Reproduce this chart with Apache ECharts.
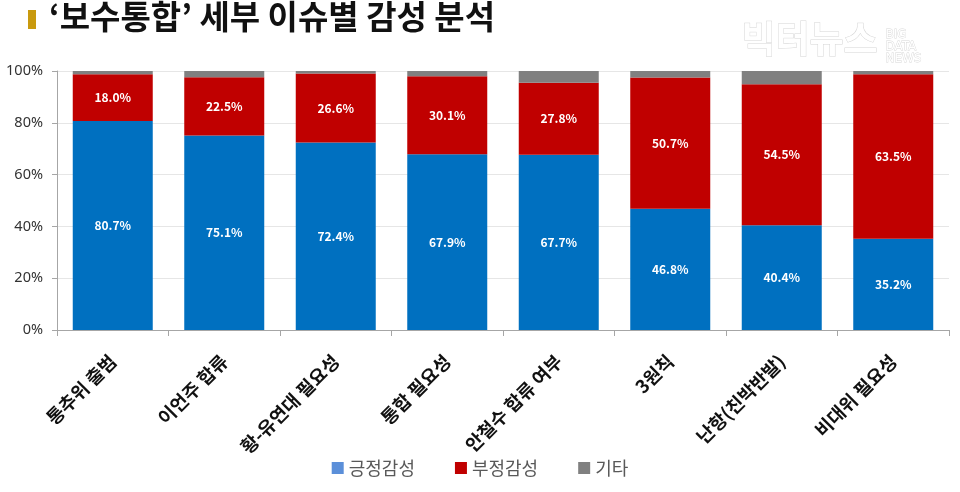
<!DOCTYPE html>
<html>
<head>
<meta charset="utf-8">
<script src="https://cdn.jsdelivr.net/npm/echarts@6/dist/echarts.min.js"></script>
<style>
html,body{margin:0;padding:0;background:#fff;}
#c{width:960px;height:492px;}
</style>
</head>
<body>
<div id="c"></div>
<script>
const categories = ['통추위 출범','이언주 합류','황-유연대 필요성','통합 필요성','안철수 합류 여부','3원칙','난항(친박반발)','비대위 필요성'];
const positive = [80.7, 75.1, 72.4, 67.9, 67.7, 46.8, 40.4, 35.2];
const negative = [18.0, 22.5, 26.6, 30.1, 27.8, 50.7, 54.5, 63.5];
const other = [1.3, 2.4, 1.0, 2.0, 4.5, 2.5, 5.1, 1.3];
const seriesNames = ['긍정감성','부정감성','기타'];
const yTicks = [0, 20, 40, 60, 80, 100];

const KFONT = '"Noto Sans CJK KR", "Noto Sans", sans-serif';
const chart = echarts.init(document.getElementById('c'), null, {renderer:'canvas'});

const labelStyle = {
  show: true,
  color: '#fff',
  fontWeight: 'bold',
  fontSize: 12,
  fontFamily: KFONT,
  formatter: p => p.value.toFixed(1) + '%'
};

chart.setOption({
  animation: false,
  backgroundColor: '#fff',
  textStyle: {fontFamily: KFONT},
  graphic: [
    {type:'rect', shape:{x:28, y:10, width:8, height:19}, style:{fill:'#C99A0E'}},
    {type:'text', left:49, top:0, style:{text:'‘보수통합’ 세부 이슈별 감성 분석', fill:'#111', font:'bold 33px ' + KFONT}},
    {type:'text', left:741, top:20, style:{text:'빅터뉴스', fill:'#fff', stroke:'#d6d6d6', lineWidth:1, font:'bold 37px ' + KFONT}},
    {type:'text', left:885, top:28, style:{text:'BIG\nDATA\nNEWS', fill:'#fff', stroke:'#d6d6d6', lineWidth:0.8, font:'12px "DejaVu Sans"', lineHeight:12}}
  ],
  legend: {
    bottom: 10,
    left: 'center',
    itemWidth: 12,
    itemHeight: 12,
    itemGap: 40,
    icon: 'rect',
    textStyle: {color:'#595959', fontSize:18, fontFamily: KFONT},
    data: [
      {name: seriesNames[0], itemStyle:{color:'#5B8FD9'}},
      {name: seriesNames[1], itemStyle:{color:'#C00000'}},
      {name: seriesNames[2], itemStyle:{color:'#808080'}}
    ]
  },
  grid: {left:57, right:11, top:71, bottom:162, containLabel:false},
  xAxis: {
    type: 'category',
    data: categories,
    axisLine: {lineStyle:{color:'#A6A6A6'}},
    axisTick: {show:true, alignWithLabel:false, length:6, lineStyle:{color:'#A6A6A6'}},
    axisLabel: {rotate:45, color:'#111', fontSize:18.5, fontWeight:'bold', fontFamily:KFONT, margin:28, interval:0}
  },
  yAxis: {
    type: 'value',
    min: 0, max: 100, interval: 20,
    axisLine: {show:true, lineStyle:{color:'#A6A6A6'}},
    axisTick: {show:true, inside:false, length:5, lineStyle:{color:'#A6A6A6'}},
    axisLabel: {color:'#333', fontSize:14.5, fontFamily:'"Noto Sans", sans-serif', margin:14,
      formatter: v => yTicks.includes(v) ? v + '%' : ''},
    splitLine: {show:true, lineStyle:{color:'#E6E6E6'}}
  },
  series: [
    {name: seriesNames[0], type:'bar', stack:'s', data: positive, barWidth: 80,
     itemStyle:{color:'#0070C0'}, label: labelStyle},
    {name: seriesNames[1], type:'bar', stack:'s', data: negative, barWidth: 80,
     itemStyle:{color:'#C00000'}, label: labelStyle},
    {name: seriesNames[2], type:'bar', stack:'s', data: other, barWidth: 80,
     itemStyle:{color:'#808080'}, label:{show:false}}
  ]
});
</script>
</body>
</html>
